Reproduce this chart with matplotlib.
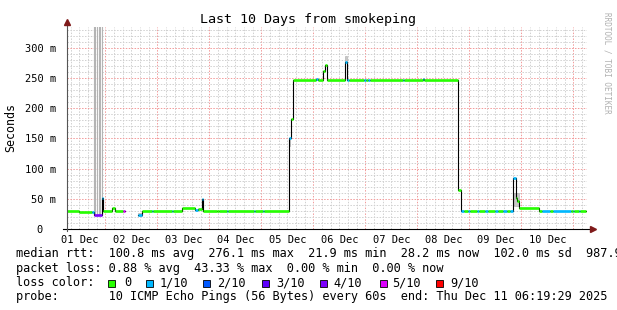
import matplotlib
matplotlib.use("Agg")
import matplotlib.pyplot as plt
from matplotlib.patches import Rectangle
import numpy as np

# time axis: day of December (fractional), window = 10 days ending Dec 11 06:19:29
win_start = 1.2632
win_end = 11.2632

# median rtt as steps: start of step (day), median (ms), lost pings (of 10)
step_start = [1.263, 1.494, 1.744, 1.788, 1.930, 1.950, 2.138, 2.177, 2.346, 2.379,
              2.623, 2.715, 2.892, 2.911, 3.277, 3.296, 3.469, 3.725, 3.783, 3.850,
              3.884, 4.142, 4.180, 4.334, 4.353, 4.865, 4.884, 5.038, 5.057, 5.538,
              5.571, 5.604, 6.046, 6.085, 6.192, 6.219, 6.269, 6.610, 6.654, 6.692,
              6.975, 7.013, 7.052, 7.090, 7.725, 7.744, 8.115, 8.134, 8.788, 8.840,
              8.900, 8.980, 9.020, 9.150, 9.190, 9.300, 9.360, 9.500, 9.550, 9.650,
              9.720, 9.780, 9.846, 9.898, 9.923, 9.956, 10.346, 10.400, 10.550, 10.600,
              10.950, 11.000, 11.020, 11.100, 11.130]
median_ms = [29, 28, 28, 24, 51, 29, 35, 29, 29, np.nan,
             23, 29, 29, 29, 29, 29, 34, 31, 33, 49,
             29, 30, 29, 29, 29, 29, 29, 29, 29, 151,
             182, 246, 248, 246, 262, 271, 246, 277, 246, 246,
             246, 246, 246, 246, 246, 246, 249, 246, 64, 29,
             29, 29, 29, 29, 29, 29, 29, 29, 29, 29,
             29, 29, 84, 51, 46, 35, 29, 29, 29, 29,
             29, 29, 29, 29, 29]
loss = [0, 0, 1, 4, 1, 0, 0, 0, 5, 0,
        1, 0, 1, 0, 1, 0, 0, 1, 0, 1,
        0, 0, 0, 1, 0, 1, 0, 1, 0, 1,
        0, 0, 1, 0, 0, 0, 0, 1, 1, 0,
        1, 0, 1, 0, 1, 0, 1, 0, 0, 1,
        0, 1, 0, 1, 0, 1, 0, 1, 0, 1,
        0, 1, 1, 0, 0, 0, 0, 1, 0, 1,
        0, 1, 0, 1, 0]
step_end = 11.238

# smoke (min..max spread) blocks: start, end, low, high (ms)
smoke_t0 = [2.623, 5.525, 6.612, 9.860]
smoke_t1 = [2.700, 5.545, 6.650, 9.950]
smoke_lo = [21, 138, 277, 38]
smoke_hi = [26, 150, 287, 60]
# single smoke strokes running off the top of the graph
smoke_line_t = [1.778, 1.803, 1.848, 1.872, 1.905, 1.930]
smoke_line_lo = [24, 24, 24, 24, 24, 24]

loss_labels = ["0", "1/10", "2/10", "3/10", "4/10", "5/10", "9/10"]
loss_colors = ["#26ff00", "#00b8ff", "#0059ff", "#5e00ff", "#7e00ff", "#dd00ff", "#ff0000"]
loss_index = {0: 0, 1: 1, 2: 2, 3: 3, 4: 4, 5: 5, 9: 6}

day_labels = [1, 2, 3, 4, 5, 6, 7, 8, 9, 10]
y_ticks = [0, 50, 100, 150, 200, 250, 300]

title = "Last 10 Days from smokeping"
stat_rtt = "median rtt:  100.8 ms avg  276.1 ms max  21.9 ms min  28.2 ms now  102.0 ms sd  987.9"
stat_loss = "packet loss: 0.88 % avg  43.33 % max  0.00 % min  0.00 % now"
probe_line = "probe:       10 ICMP Echo Pings (56 Bytes) every 60s  end: Thu Dec 11 06:19:29 2025"

W, H = 617, 310
mono = "DejaVu Sans Mono"
plt.rcParams['font.family'] = mono


def fx(px):
    return px / W


def fy(py):
    return 1 - py / H


fig = plt.figure(figsize=(W / 100, H / 100), dpi=100)
ax = fig.add_axes([fx(67), fy(229), 520 / W, 202 / H])
ax.set_xlim(win_start, win_end)
ax.set_ylim(0, 334.5)
for s in ax.spines.values():
    s.set_visible(False)

# grid
for d in np.arange(1, 12, 1 / 6):
    if win_start < d < win_end:
        major = abs(d - round(d)) < 1e-6
        ax.axvline(d, color="#f29a9a" if major else "#d0d0d0", lw=0.7,
                   ls=(0, (1.5, 1.5)), zorder=0)
for v in range(10, 335, 10):
    major = v % 50 == 0
    ax.axhline(v, color="#f29a9a" if major else "#d0d0d0", lw=0.7,
               ls=(0, (1.5, 1.5)), zorder=0)

# smoke
for t0, t1, lo, hi in zip(smoke_t0, smoke_t1, smoke_lo, smoke_hi):
    ax.fill_between([t0, t1], [lo, lo], [hi, hi], color="#c8c8c8",
                    edgecolor="#a8a8a8", lw=0.4, zorder=1)
ax.vlines(smoke_line_t, smoke_line_lo, 400, color="#b4b4b4", lw=0.8, zorder=1)

# median: black step + colored horizontals
xs = step_start + [step_end]
ys = median_ms + [median_ms[-1]]
ax.step(xs, ys, where="post", color="black", lw=0.8, zorder=2)
for i, t0 in enumerate(step_start):
    t1 = step_start[i + 1] if i + 1 < len(step_start) else step_end
    v = median_ms[i]
    if np.isnan(v):
        continue
    ax.hlines(v, t0, t1, color=loss_colors[loss_index[loss[i]]], lw=1.9,
              zorder=3, capstyle="butt")

# ticks
ax.set_yticks(y_ticks)
ax.set_yticklabels(["0  " if v == 0 else f"{v} m" for v in y_ticks])
ax.set_xticks([d + 0.5 for d in day_labels])
ax.set_xticklabels([f"{d:02d} Dec" for d in day_labels])
ax.tick_params(axis="both", length=0, labelsize=7.5, colors="black")
ax.tick_params(axis="y", pad=8)
ax.tick_params(axis="x", pad=4)

# axis lines with arrows
ax.plot([-0.007, 1.005], [0, 0], transform=ax.transAxes, color="black",
        lw=0.8, clip_on=False, zorder=5)
ax.plot([0, 0], [-0.01, 1.01], transform=ax.transAxes, color="#555555",
        lw=0.8, clip_on=False, zorder=5)
ax.plot([1.011], [0], transform=ax.transAxes, marker=">", color="#7f1a1a",
        ms=4, clip_on=False, zorder=6)
ax.plot([0], [1.025], transform=ax.transAxes, marker="^", color="#7f1a1a",
        ms=4, clip_on=False, zorder=6)

fig.text(fx(308), fy(20), title, ha="center", va="center", fontsize=9.6)
fig.text(fx(11), fy(127), "Seconds", rotation=90, ha="center", va="center",
         fontsize=8.4)
fig.text(fx(607), fy(12), "RRDTOOL / TOBI OETIKER", rotation=270, ha="center",
         va="top", fontsize=5.5, color="#b0b0b0")

fig.text(fx(16), fy(254), stat_rtt, ha="left", va="center", fontsize=8.55)
fig.text(fx(16), fy(268.3), stat_loss, ha="left", va="center", fontsize=8.55)
fig.text(fx(16), fy(282.7), "loss color:", ha="left", va="center", fontsize=8.55)
fig.text(fx(16), fy(296.7), probe_line, ha="left", va="center", fontsize=8.55)

box_x = [108, 146, 203, 262, 320, 380, 436]
text_x = [124, 160, 217, 276, 333, 392, 450]
for lab, col, bx, tx in zip(loss_labels, loss_colors, box_x, text_x):
    fig.patches.append(Rectangle((fx(bx), fy(286.5)), 7 / W, 7 / H,
                                 transform=fig.transFigure, facecolor=col,
                                 edgecolor="black", lw=0.6))
    fig.text(fx(tx), fy(282.7), lab, ha="left", va="center", fontsize=8.55)

fig.savefig("out.png", dpi=100, facecolor="white")
